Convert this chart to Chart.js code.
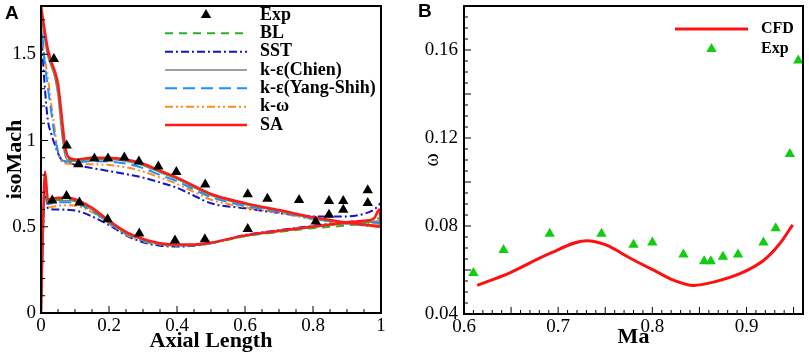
<!DOCTYPE html>
<html lang="en">
<head>
    <meta charset="UTF-8">
    <title>isoMach distribution and loss coefficient</title>
    <script src="https://cdn.jsdelivr.net/npm/chart.js"></script>
    <style>
        body {
            margin: 0;
            background: #fff;
        }

        .wrap {
            position: relative;
            width: 809px;
            height: 356px;
        }

        .panel {
            position: absolute;
            top: 0;
        }

        #chartA { left: 0; }
        #chartB { left: 400px; }

        .tag {
            position: absolute;
            font: bold 19px "Liberation Sans", Arial, sans-serif;
        }
    </style>
</head>
<body>
    <div class="wrap">
        <canvas id="chartA" class="panel" width="400" height="356"></canvas>
        <canvas id="chartB" class="panel" width="409" height="356"></canvas>
        <div class="tag" style="left:5px; top:2px">A</div>
        <div class="tag" style="left:418px; top:0px">B</div>
    </div>

    <script>
        // ---- panel A: isoMach along the blade (suction side / pressure side) ----
        const upperX = [0, 0.01, 0.02, 0.03, 0.04, 0.05, 0.06, 0.07, 0.08, 0.1, 0.15, 0.2, 0.25, 0.3, 0.35, 0.4, 0.45, 0.5, 0.6, 0.7, 0.8, 0.9, 0.95, 0.98, 1.0];
        const lowerX = [0, 0.005, 0.012, 0.02, 0.03, 0.05, 0.08, 0.11, 0.15, 0.2, 0.25, 0.3, 0.35, 0.4, 0.45, 0.5, 0.6, 0.7, 0.8, 0.9, 0.95, 0.98, 0.995, 1.0];

        const saUpper = [1.78, 1.65, 1.53, 1.46, 1.405, 1.33, 1.16, 0.98, 0.905, 0.89, 0.90, 0.90, 0.89, 0.865, 0.825, 0.785, 0.737, 0.69, 0.637, 0.597, 0.556, 0.525, 0.513, 0.506, 0.50];
        const saLower = [0, 0.45, 0.82, 0.66, 0.662, 0.668, 0.668, 0.652, 0.61, 0.535, 0.47, 0.43, 0.405, 0.397, 0.397, 0.408, 0.45, 0.477, 0.502, 0.525, 0.535, 0.55, 0.60, 0.52];
        const blUpper = [1.77, 1.63, 1.52, 1.45, 1.40, 1.31, 1.13, 0.95, 0.895, 0.885, 0.895, 0.895, 0.885, 0.86, 0.82, 0.78, 0.732, 0.686, 0.633, 0.594, 0.553, 0.523, 0.511, 0.505, 0.50];
        const blLower = [0, 0.43, 0.79, 0.65, 0.652, 0.66, 0.66, 0.645, 0.602, 0.53, 0.466, 0.426, 0.401, 0.393, 0.395, 0.405, 0.445, 0.47, 0.492, 0.508, 0.522, 0.54, 0.55, 0.52];
        const chienUpper = [1.76, 1.60, 1.49, 1.43, 1.37, 1.26, 1.06, 0.92, 0.885, 0.88, 0.89, 0.89, 0.88, 0.855, 0.815, 0.776, 0.727, 0.681, 0.629, 0.591, 0.55, 0.521, 0.51, 0.504, 0.50];
        const chienLower = [0, 0.42, 0.77, 0.64, 0.645, 0.652, 0.652, 0.64, 0.598, 0.528, 0.464, 0.424, 0.40, 0.393, 0.395, 0.405, 0.447, 0.473, 0.497, 0.52, 0.525, 0.53, 0.535, 0.52];
        const yangUpper = [1.72, 1.47, 1.31, 1.17, 1.03, 0.935, 0.89, 0.88, 0.878, 0.875, 0.88, 0.878, 0.866, 0.84, 0.80, 0.764, 0.716, 0.672, 0.622, 0.586, 0.547, 0.519, 0.509, 0.503, 0.50];
        const yangLower = [0, 0.41, 0.75, 0.63, 0.635, 0.642, 0.642, 0.63, 0.592, 0.522, 0.46, 0.42, 0.398, 0.392, 0.394, 0.405, 0.447, 0.473, 0.498, 0.522, 0.527, 0.525, 0.52, 0.51];
        const kwUpper = [1.70, 1.49, 1.37, 1.21, 1.07, 0.935, 0.88, 0.868, 0.865, 0.862, 0.862, 0.858, 0.845, 0.82, 0.785, 0.749, 0.702, 0.657, 0.613, 0.58, 0.543, 0.516, 0.507, 0.502, 0.50];
        const kwLower = [0, 0.40, 0.73, 0.612, 0.615, 0.622, 0.625, 0.618, 0.585, 0.518, 0.455, 0.415, 0.395, 0.39, 0.393, 0.405, 0.446, 0.472, 0.497, 0.52, 0.522, 0.518, 0.515, 0.51];
        const sstUpper = [1.66, 1.34, 1.12, 1.04, 0.98, 0.925, 0.89, 0.88, 0.872, 0.86, 0.84, 0.823, 0.805, 0.785, 0.757, 0.726, 0.68, 0.636, 0.607, 0.58, 0.56, 0.56, 0.575, 0.60, 0.64];
        const sstLower = [0, 0.40, 0.71, 0.61, 0.602, 0.60, 0.598, 0.59, 0.56, 0.51, 0.45, 0.41, 0.39, 0.385, 0.39, 0.405, 0.452, 0.48, 0.505, 0.528, 0.532, 0.53, 0.52, 0.51];

        const expAxial = [0.038, 0.0755, 0.11, 0.157, 0.197, 0.245, 0.288, 0.345, 0.398, 0.483, 0.608, 0.666, 0.759, 0.847, 0.889, 0.961,
                          0.033, 0.075, 0.113, 0.196, 0.289, 0.394, 0.482, 0.608, 0.808, 0.847, 0.889, 0.961];
        const expIsoMach = [1.473, 0.971, 0.862, 0.896, 0.896, 0.902, 0.879, 0.849, 0.818, 0.745, 0.688, 0.663, 0.655, 0.649, 0.649, 0.711,
                            0.653, 0.678, 0.640, 0.544, 0.461, 0.420, 0.427, 0.487, 0.530, 0.569, 0.598, 0.638];

        // ---- panel B: loss coefficient vs Mach number ----
        const maCfd = [0.614, 0.648, 0.69, 0.73, 0.75, 0.778, 0.802, 0.823, 0.844, 0.865, 0.893, 0.918, 0.935, 0.949];
        const omegaCfd = [0.053, 0.0586, 0.0673, 0.0733, 0.0715, 0.065, 0.0598, 0.0553, 0.053, 0.0545, 0.0583, 0.0643, 0.0718, 0.0805];
        const maExp = [0.610, 0.642, 0.691, 0.746, 0.780, 0.800, 0.833, 0.855, 0.862, 0.875, 0.891, 0.918, 0.931, 0.946, 0.955];
        const omegaExp = [0.0586, 0.0691, 0.0765, 0.0765, 0.0715, 0.0725, 0.067, 0.064, 0.064, 0.066, 0.067, 0.0725, 0.079, 0.1127, 0.1552];

        const serif = '"Liberation Serif", "Times New Roman", serif';

        function pts(xs, ys) {
            return xs.map((x, i) => ({ x: x, y: ys[i] }));
        }

        // upper surface, a break, then lower surface
        function blade(upper, lower) {
            return pts(upperX, upper).concat([{ x: 1, y: null }], pts(lowerX, lower));
        }

        function curve(label, color, dash, width, upper, lower, order) {
            return {
                label: label,
                data: blade(upper, lower),
                showLine: true,
                borderColor: color,
                backgroundColor: color,
                borderDash: dash,
                borderWidth: width,
                pointRadius: 0,
                order: order
            };
        }

        // fixed axis sizes so the plot box sits where the original one does
        function fixWidth(w) {
            return (s) => { s.width = w; s.paddingTop = 0; s.paddingBottom = 0; };
        }
        function fixHeight(h) {
            return (s) => { s.height = h; s.paddingLeft = 0; s.paddingRight = 0; };
        }

        // Tecplot style frame with inward major/minor ticks on left and bottom
        function marks(scale, minor, major, draw) {
            const first = Math.ceil(scale.min / minor - 1e-6);
            const last = Math.floor(scale.max / minor + 1e-6);
            for (let k = first; k <= last; k++) {
                const v = k * minor;
                const r = v / major;
                draw(scale.getPixelForValue(v), Math.abs(r - Math.round(r)) < 1e-6 ? 7 : 4);
            }
        }

        const frameTicks = {
            id: 'frameTicks',
            afterDatasetsDraw(chart, args, o) {
                const { ctx, chartArea: a, scales } = chart;
                ctx.save();
                ctx.strokeStyle = '#000';
                ctx.lineWidth = 1;
                ctx.setLineDash([]);
                ctx.beginPath();
                marks(scales.x, o.xMinor, o.xMajor, (p, len) => { ctx.moveTo(p, a.bottom); ctx.lineTo(p, a.bottom - len); });
                marks(scales.y, o.yMinor, o.yMajor, (p, len) => { ctx.moveTo(a.left, p); ctx.lineTo(a.left + len, p); });
                ctx.stroke();
                ctx.lineWidth = 2;
                ctx.strokeRect(a.left, a.top, a.right - a.left, a.bottom - a.top);
                ctx.restore();
            }
        };

        // legend drawn inside the plot like the original
        const boxLegend = {
            id: 'boxLegend',
            afterDraw(chart, args, o) {
                const ctx = chart.ctx;
                ctx.save();
                ctx.font = o.font;
                ctx.textBaseline = 'middle';
                chart.data.datasets.forEach((ds, row) => {
                    const y = o.y + row * o.row;
                    if (ds.showLine) {
                        ctx.strokeStyle = ds.borderColor;
                        ctx.lineWidth = ds.borderWidth;
                        ctx.setLineDash(ds.borderDash || []);
                        ctx.beginPath();
                        ctx.moveTo(o.x, y);
                        ctx.lineTo(o.x + o.sample, y);
                        ctx.stroke();
                    } else {
                        ctx.fillStyle = ds.pointBackgroundColor;
                        Chart.helpers.drawPoint(ctx, { pointStyle: 'triangle', radius: ds.pointRadius, rotation: 0, borderWidth: 0 }, o.x + o.sample / 2, y);
                    }
                    ctx.setLineDash([]);
                    ctx.fillStyle = '#000';
                    ctx.fillText(ds.label, o.x + o.sample + o.gap, y);
                });
                ctx.restore();
            }
        };

        const tickFont = { family: serif, size: 19 };
        const titleFont = { family: serif, size: 22, weight: 'bold' };

        new Chart(document.getElementById('chartA'), {
            type: 'scatter',
            data: {
                datasets: [
                    {
                        label: 'Exp',
                        data: pts(expAxial, expIsoMach),
                        pointStyle: 'triangle',
                        pointRadius: 6,
                        pointBackgroundColor: '#000',
                        pointBorderColor: '#000',
                        pointBorderWidth: 0,
                        order: 0
                    },
                    curve('BL', '#2bb02b', [8, 6], 2, blUpper, blLower, 2),
                    curve('SST', '#1414c8', [8, 3, 2, 3], 2, sstUpper, sstLower, 6),
                    curve('k-ε(Chien)', '#808080', [], 1.5, chienUpper, chienLower, 3),
                    curve('k-ε(Yang-Shih)', '#1e8fff', [12, 6], 2, yangUpper, yangLower, 4),
                    curve('k-ω', '#ff8c1a', [8, 3, 2, 3, 2, 3], 2, kwUpper, kwLower, 5),
                    curve('SA', '#ff1a1a', [], 2.5, saUpper, saLower, 1)
                ]
            },
            options: {
                responsive: false,
                animation: false,
                layout: { padding: { top: 3, right: 19, left: 0, bottom: 0 } },
                elements: { line: { cubicInterpolationMode: 'monotone' } },
                scales: {
                    x: {
                        type: 'linear',
                        min: 0,
                        max: 1,
                        afterFit: fixHeight(43),
                        grid: { display: false, drawTicks: false },
                        border: { display: false },
                        ticks: {
                            stepSize: 0.2,
                            autoSkip: false,
                            includeBounds: false,
                            maxRotation: 0,
                            padding: 2,
                            color: '#000',
                            font: tickFont,
                            callback: (v) => String(Math.round(v * 10) / 10)
                        },
                        title: { display: true, text: 'Axial Length', color: '#000', font: titleFont, padding: { top: 0, bottom: 1 } }
                    },
                    y: {
                        min: 0,
                        max: 1.78,
                        afterFit: fixWidth(41),
                        grid: { display: false, drawTicks: false },
                        border: { display: false },
                        ticks: {
                            stepSize: 0.5,
                            includeBounds: false,
                            padding: 5,
                            color: '#000',
                            font: tickFont,
                            callback: (v) => String(Math.round(v * 10) / 10)
                        },
                        title: { display: true, text: 'isoMach', color: '#000', font: titleFont, padding: { top: 2, bottom: 0 } }
                    }
                },
                plugins: {
                    legend: { display: false },
                    tooltip: { enabled: false },
                    frameTicks: { xMinor: 0.05, xMajor: 0.2, yMinor: 0.1, yMajor: 0.5 },
                    boxLegend: { x: 165, y: 15, row: 18.33, sample: 82, gap: 13, font: 'bold 18px ' + serif }
                }
            },
            plugins: [frameTicks, boxLegend]
        });

        new Chart(document.getElementById('chartB'), {
            type: 'scatter',
            data: {
                datasets: [
                    {
                        label: 'CFD',
                        data: pts(maCfd, omegaCfd),
                        showLine: true,
                        borderColor: '#ff1010',
                        backgroundColor: '#ff1010',
                        borderWidth: 3,
                        pointRadius: 0,
                        order: 1
                    },
                    {
                        label: 'Exp',
                        data: pts(maExp, omegaExp),
                        pointStyle: 'triangle',
                        pointRadius: 6,
                        pointBackgroundColor: '#11cc11',
                        pointBorderColor: '#11cc11',
                        pointBorderWidth: 0,
                        order: 0
                    }
                ]
            },
            options: {
                responsive: false,
                animation: false,
                layout: { padding: { top: 2, right: 3, left: 0, bottom: 0 } },
                elements: { line: { cubicInterpolationMode: 'monotone' } },
                scales: {
                    x: {
                        type: 'linear',
                        min: 0.6,
                        max: 0.96,
                        afterFit: fixHeight(42),
                        grid: { display: false, drawTicks: false },
                        border: { display: false },
                        ticks: {
                            stepSize: 0.05,
                            autoSkip: false,
                            includeBounds: false,
                            maxRotation: 0,
                            padding: 2,
                            color: '#000',
                            font: tickFont,
                            callback: (v) => Math.round(v * 100) % 10 === 0 ? v.toFixed(1) : ''
                        },
                        title: { display: true, text: 'Ma', color: '#000', font: titleFont, padding: { top: 0, bottom: 5 } }
                    },
                    y: {
                        min: 0.04,
                        max: 0.18,
                        afterFit: fixWidth(64),
                        grid: { display: false, drawTicks: false },
                        border: { display: false },
                        ticks: {
                            stepSize: 0.02,
                            includeBounds: false,
                            padding: 6,
                            color: '#000',
                            font: tickFont,
                            callback: (v) => Math.round(v * 100) % 4 === 0 ? v.toFixed(2) : ''
                        },
                        title: { display: true, text: 'ω', color: '#000', font: { family: serif, size: 20 }, padding: { top: 21, bottom: 0 } }
                    }
                },
                plugins: {
                    legend: { display: false },
                    tooltip: { enabled: false },
                    frameTicks: { xMinor: 0.01, xMajor: 0.05, yMinor: 0.005, yMajor: 0.02 },
                    boxLegend: { x: 275, y: 29, row: 20, sample: 73, gap: 13, font: 'bold 16px ' + serif }
                }
            },
            plugins: [frameTicks, boxLegend]
        });
    </script>
</body>
</html>
